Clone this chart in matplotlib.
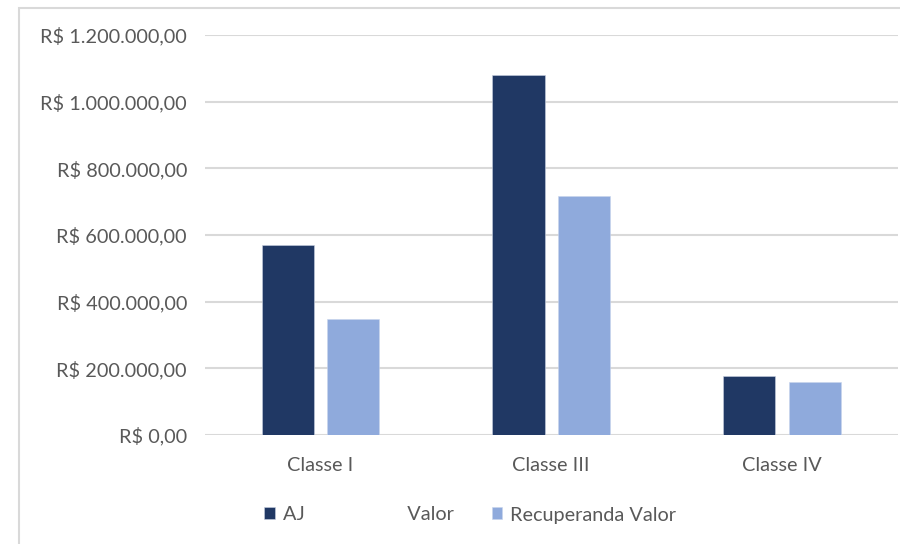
import matplotlib.pyplot as plt
import numpy as np
from matplotlib.patches import Rectangle

categorias = ['Classe I', 'Classe III', 'Classe IV']
aj_valor = [570000, 1079000, 177000]
recuperanda_valor = [347000, 718000, 158000]
rotulo_aj = 'AJ                    Valor'
rotulo_rec = 'Recuperanda Valor'

def fmt_real(v, pos=None):
    s = '{:,.2f}'.format(v)
    s = s.replace(',', 'X').replace('.', ',').replace('X', '.')
    return 'R$ ' + s

plt.rcParams['font.family'] = ['Lato', 'DejaVu Sans']
cinza = '#595959'
fs = 14.3

fig = plt.figure(figsize=(9, 5.44), dpi=100)
ax = fig.add_axes([205/900, 1-435/544, (897.5-205)/900, 400/544])
x = np.arange(len(categorias))
w = 0.226
off = 0.142
ax.bar(x - off, aj_valor, w, color='#203864', edgecolor='#c8d0e0', linewidth=0.4, label=rotulo_aj, zorder=3)
ax.bar(x + off, recuperanda_valor, w, color='#8FAADC', edgecolor='#c8d4ec', linewidth=0.4, label=rotulo_rec, zorder=3)

ax.set_xlim(-0.5, 2.5)
ax.set_ylim(0, 1200000)
ax.set_yticks(np.arange(0, 1200001, 200000))
ax.yaxis.set_major_formatter(plt.FuncFormatter(fmt_real))
ax.set_xticks(x)
ax.set_xticklabels(categorias)
ax.grid(axis='y', color='#d9d9d9', linewidth=1.5, zorder=0)
for s in ax.spines.values():
    s.set_visible(False)
ax.tick_params(axis='y', length=0, pad=13, labelsize=fs, labelcolor=cinza)
ax.tick_params(axis='x', length=0, pad=16, labelsize=fs, labelcolor=cinza)

leg = ax.legend(loc='center', bbox_to_anchor=(0.383, -0.2), ncol=2, frameon=False,
                fontsize=fs, handlelength=0.55, handleheight=0.55, handletextpad=0.4,
                columnspacing=1.9)
for t in leg.get_texts():
    t.set_color(cinza)

# borda do gráfico
fig.patches.append(Rectangle((18.5/900, -0.1), 1.2, 1 - 8/544 + 0.1, transform=fig.transFigure,
                             fill=False, edgecolor='#d9d9d9', linewidth=1.5))

fig.savefig('out.png', dpi=100)
